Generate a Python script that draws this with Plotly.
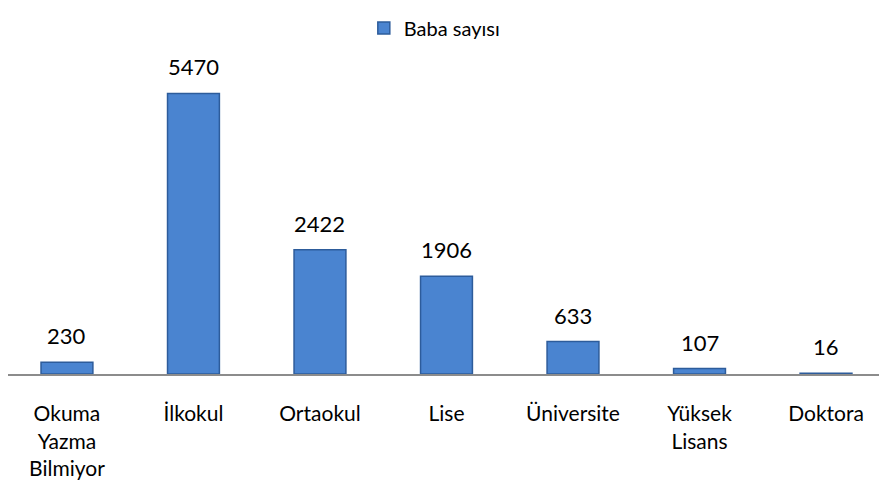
import plotly.graph_objects as go

categories = ["Okuma<br>Yazma<br>Bilmiyor", "İlkokul", "Ortaokul", "Lise", "Üniversite", "Yüksek<br>Lisans", "Doktora"]
values = [230, 5470, 2422, 1906, 633, 107, 16]
series_name = "Baba sayısı"

font_family = "Lato, Open Sans, Liberation Sans, sans-serif"

fig = go.Figure()
fig.add_trace(go.Bar(
    x=categories, y=values, name=series_name,
    marker=dict(color="#4A84D0", line=dict(color="#2D5C9B", width=1.5)),
    width=0.41,
    showlegend=True,
))

for c, v in zip(categories, values):
    fig.add_annotation(x=c, y=v, text=str(v), showarrow=False, yanchor="bottom",
                       yshift=11, font=dict(size=22, color="#000000", family=font_family))

fig.update_layout(
    width=879, height=491,
    margin=dict(l=0, r=0, t=0, b=125),
    paper_bgcolor="white", plot_bgcolor="white",
    font=dict(family=font_family, size=22, color="#000000"),
    showlegend=True,
    legend=dict(orientation="h", x=0.485, xanchor="center", y=0.975, yanchor="middle",
                font=dict(size=20), itemwidth=30),
    xaxis=dict(showline=True, linecolor="#8C8C8C", linewidth=2, ticks="",
               tickfont=dict(size=21), showgrid=False, automargin=False,
               ticklabelstandoff=20, range=[-0.466, 6.482]),
    yaxis=dict(visible=False, range=[0, 6922], showgrid=False, zeroline=False),
    bargap=0.59,
)

fig.write_html("out.html")
